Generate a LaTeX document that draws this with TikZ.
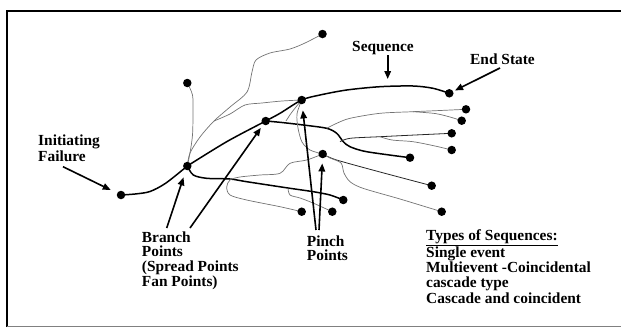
\documentclass[tikz,border=0pt]{standalone}
\usepackage{fontspec}
\setmainfont{Liberation Serif}
\usetikzlibrary{arrows.meta,backgrounds}

\begin{document}
\begin{tikzpicture}[
  x=1pt, y=-1pt,
  dot/.style={circle, fill=black, inner sep=0pt, minimum size=8.5pt},
  seq/.style={line width=1.5pt, black},
  alt/.style={line width=0.7pt, black!55},
  alk/.style={line width=0.8pt, black!85},
  ptr/.style={-{Triangle[length=8pt,width=6.5pt]}, line width=1.6pt},
  lbl/.style={font=\bfseries\fontsize{15.4}{14.8}\selectfont, align=left,
              inner sep=0pt, anchor=base west}
]
\useasboundingbox (0,0) rectangle (621,327);
% frame
\draw[line width=2.4pt] (7,327) -- (7,11) -- (621,11);
\draw[line width=0.8pt, black!50] (7,326.5) -- (621,326.5);

% event points
\node[dot] (init)  at (121,195)   {};
\node[dot] (br1)   at (187.3,166) {};
\node[dot] (br2)   at (265.7,121) {};
\node[dot] (pt1)   at (301.7,100) {};
\node[dot] (pt2)   at (322.7,154) {};
\node[dot] (endst) at (449.3,93.3) {};
\node[dot] (topd)  at (322.5,34)  {};
\node[dot] (ltop)  at (187.3,83)  {};
\node[dot] (r1)    at (466,109.3) {};
\node[dot] (r2)    at (461.7,120.7) {};
\node[dot] (r3)    at (451.7,133.3) {};
\node[dot] (r4)    at (451.7,150) {};
\node[dot] (r5)    at (410,157.7) {};
\node[dot] (r6)    at (431.7,185.7) {};
\node[dot] (r7)    at (441.7,211.7) {};
\node[dot] (b1)    at (343.3,200) {};
\node[dot] (b2)    at (301.7,211.7) {};
\node[dot] (b3)    at (332.3,211.7) {};

% where side paths leave other paths
\coordinate (jtop) at (214,121);
\coordinate (jr1)  at (326.7,128.3);
\coordinate (jr2)  at (413,111.7);
\coordinate (jr3)  at (340,141.7);
\coordinate (jr4)  at (380,136.7);
\coordinate (jb3)  at (288,188);

\begin{scope}[on background layer]
% main sequences
\draw[seq] plot[smooth] coordinates {(init.center) (135,194) (150,191.5) (166,183) (br1.center)};
\draw[seq] plot[smooth] coordinates {(br1.center) (226.7,141.7) (br2.center) (280,113.3)
  (pt1.center) (320,95) (346.7,90) (380,86.7) (413,86) (433,88.3) (endst.center)};
\draw[seq] plot[smooth] coordinates {(br2.center) (280,122.3) (303.3,125) (jr1) (336.7,133.3)
  (343.3,141.7) (350,146.7) (366.7,151.7) (r5.center)};
\draw[seq] plot[smooth] coordinates {(br1.center) (193.3,175) (206.7,178.3) (230,179)
  (246.7,181.7) (jb3) (313.3,191.7) (330,195) (b1.center)};
% side paths
\draw[alt] plot[smooth] coordinates {(br1.center) (190,153) (192.5,135) (193,112) (192.5,95) (ltop.center)};
\draw[alt] plot[smooth] coordinates {(br1.center) (190,153) (200,137) (jtop) (230,107) (247,92)
  (252,72) (256,60) (270,53) (290,49) (305,43) (topd.center)};
\draw[alt] plot[smooth] coordinates {(jtop) (230,114) (245,105) (262,103) (282,101) (pt1.center)};
\draw[alt] plot[smooth] coordinates {(pt1.center) (292,112) (286,121)};
\draw[alt] plot[smooth] coordinates {(pt1.center) (297,114) (298,128) (302,142) (310,150) (pt2.center)};
\draw[alt] plot[smooth] coordinates {(pt2.center) (306.7,160) (290,163.3) (280,173.3) (260,175)
  (240,177) (230,180) (226.7,187) (230,195) (246.7,200) (280,206.7) (b2.center)};
\draw[alt] plot[smooth] coordinates {(jr1) (336.7,123.3) (350,118.3) (380,113.3) (jr2) (440,110.5) (r1.center)};
\draw[alt] plot[smooth] coordinates {(jr2) (435,113.5) (450,117) (r2.center)};
\draw[alk] plot[smooth] coordinates {(jr3) (350,138.3) (jr4) (415,135) (r3.center)};
\draw[alt] plot[smooth] coordinates {(jr4) (392,140) (413,141.7) (435,146) (r4.center)};
\draw[alk] plot[smooth] coordinates {(pt2.center) (336.7,160) (380,172) (r6.center)};
\draw[alt] plot[smooth] coordinates {(pt2.center) (330,158) (341,163) (344,173) (350,181.7)
  (363,188.3) (400,199) (r7.center)};
\draw[alt] plot[smooth] coordinates {(jb3) (290,195) (300,198) (313,203) (b3.center)};
\end{scope}

% labels (base = last line)
\node[lbl, font=\bfseries\fontsize{15.4}{14}\selectfont] (initlbl) at (38,161) {Initiating\\Failure};
\node[lbl, anchor=base] (seqlbl) at (383,51) {Sequence};
\node[lbl] (endlbl) at (470,64) {End State};
\node[lbl] (brlbl) at (141.7,286.4) {Branch\\Points\\(Spread Points\\Fan Points)};
\node[lbl, font=\bfseries\fontsize{15.4}{14.5}\selectfont] (pinchlbl) at (306.7,260.5) {Pinch\\Points};
\node[lbl, font=\bfseries\fontsize{15.4}{15.25}\selectfont] (typelbl) at (426,303)
  {\underline{Types of Sequences:}\\Single event\\Multievent -Coincidental\\cascade type\\Cascade and coincident};

% pointers
\coordinate (initA) at (63,166.7);
\coordinate (brA)   at (166.7,228);
\coordinate (brB)   at (190,228);
\coordinate (pnA)   at (316,230);
\coordinate (pnB)   at (319,230);
\coordinate (seqA)  at (387.7,55);
\coordinate (seqB)  at (387.7,79);
\coordinate (endA)  at (500,68);
\draw[ptr, shorten >=7pt] (initA) -- (init);
\draw[ptr, shorten >=7.5pt] (brA) -- (br1);
\draw[ptr, shorten >=4pt] (brB) -- (br2);
\draw[ptr, shorten >=6pt] (pnA) -- (pt1);
\draw[ptr, shorten >=5pt] (pnB) -- (pt2);
\draw[ptr] (seqA) -- (seqB);
\draw[ptr, shorten >=2pt] (endA) -- (endst);
\end{tikzpicture}
\end{document}
